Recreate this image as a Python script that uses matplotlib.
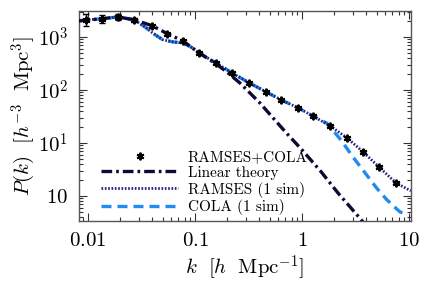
import numpy as np
import matplotlib
matplotlib.use('Agg')
import matplotlib.pyplot as plt
from matplotlib.ticker import FixedLocator, FixedFormatter, LogLocator, NullFormatter

plt.rcParams['mathtext.fontset'] = 'cm'
plt.rcParams['font.family'] = 'cmr10'
plt.rcParams['axes.unicode_minus'] = False

# averaged RAMSES+COLA points
k_pts = [0.0096, 0.0135, 0.019, 0.027, 0.040, 0.055, 0.077, 0.109, 0.157, 0.222,
         0.320, 0.461, 0.637, 0.918, 1.27, 1.83, 2.64, 3.72, 5.25, 7.57]
p_pts = [2090, 2190, 2380, 2090, 1610, 1140, 840, 500, 323, 209,
         136, 92, 65, 46, 32, 21, 12.4, 6.8, 3.5, 1.76]
p_err = [0.11, 0.075, 0.05, 0.035, 0.025, 0.02, 0.015, 0.01, 0.01, 0.01,
         0.01, 0.01, 0.01, 0.01, 0.01, 0.01, 0.01, 0.01, 0.01, 0.01]

# linear theory
k_lin = [0.0082, 0.0135, 0.019, 0.027, 0.040, 0.055, 0.077, 0.109, 0.157,
         0.2, 0.264, 0.4, 0.693, 1.0, 1.5, 2.2, 3.48, 4.0]
p_lin = [2000, 2200, 2380, 2100, 1620, 1150, 840, 500, 310,
         215, 134, 58, 16.5, 7.4, 2.9, 1.1, 0.38, 0.27]

# RAMSES single simulation
k_ram = [0.0082, 0.0096, 0.0135, 0.019, 0.027, 0.034, 0.040, 0.050, 0.062, 0.077,
         0.095, 0.109, 0.157, 0.222, 0.320, 0.461, 0.637, 0.918, 1.27, 1.83,
         2.64, 3.72, 5.25, 7.57, 10.4]
p_ram = [2000, 2090, 2190, 2380, 2090, 1550, 1190, 880, 805, 770,
         620, 500, 323, 209, 136, 92, 65, 46, 32, 21,
         12.4, 6.8, 3.5, 1.76, 1.25]

# COLA single simulation
k_cola = [0.0082, 0.0096, 0.0135, 0.019, 0.027, 0.034, 0.040, 0.050, 0.062, 0.077,
          0.095, 0.109, 0.157, 0.222, 0.320, 0.461, 0.637, 0.918, 1.27, 1.71,
          2.31, 3.0, 5.0, 6.2, 8.24, 9.6]
p_cola = [2000, 2090, 2190, 2380, 2090, 1550, 1190, 880, 805, 770,
          620, 500, 323, 209, 136, 92, 65, 46, 32, 23.5,
          11.4, 5.4, 1.4, 0.85, 0.50, 0.45]

fig = plt.figure(figsize=(4.28, 2.85), dpi=100)
ax = fig.add_axes([0.1846, 0.225, 0.7757, 0.7368])

ax.plot(k_lin, p_lin, color='#0b0b35', lw=2.4, ls=(0, (3.2, 1.2, 0.8, 1.2)),
        label='Linear theory', zorder=4)
ax.plot(k_ram, p_ram, color='#23237f', lw=2.0, ls=(0, (0.6, 0.6)),
        label='RAMSES (1 sim)', zorder=3)
ax.plot(k_cola, p_cola, color='#1f8cf0', lw=2.4, ls=(0, (3.0, 1.8)),
        label='COLA (1 sim)', zorder=2)
p_arr = np.array(p_pts)
e_arr = np.array(p_err)
ax.errorbar(k_pts, p_pts, yerr=[p_arr * (1 - 10**-e_arr), p_arr * (10**e_arr - 1)],
            fmt='none', ecolor='black', elinewidth=1.0, capsize=2.0, zorder=5)
ax.plot(k_pts, p_pts, ls='none', marker=(6, 2, 0), ms=5.5, mew=1.4, color='black',
        label='RAMSES+COLA', zorder=6)

ax.set_xscale('log')
ax.set_yscale('log')
ax.set_xlim(10**-2.084, 10**1.019)
ax.set_ylim(10**-0.47, 10**3.49)

ax.xaxis.set_major_locator(FixedLocator([0.01, 0.1, 1, 10]))
ax.xaxis.set_major_formatter(FixedFormatter([r'$0.01$', r'$0.1$', r'$1$', r'$10$']))
ax.yaxis.set_major_locator(FixedLocator([1, 10, 100, 1000]))
ax.yaxis.set_major_formatter(FixedFormatter([r'$10$', r'$10^1$', r'$10^2$', r'$10^3$']))
for a in (ax.xaxis, ax.yaxis):
    a.set_minor_locator(LogLocator(base=10, subs=np.arange(2, 10), numticks=20))
    a.set_minor_formatter(NullFormatter())

ax.tick_params(which='both', direction='in', top=True, right=True, width=0.8,
               colors='#333333', labelcolor='black', labelsize=15, pad=8)
ax.tick_params(which='major', length=6)
ax.tick_params(which='minor', length=3)
for s in ax.spines.values():
    s.set_linewidth(1.0)
    s.set_color('#555555')

ax.set_xlabel(r'$k\ \ [h\ \ \mathrm{Mpc}^{-1}]$', fontsize=15, labelpad=2)
ax.set_ylabel(r'$P(k)\ \ [h^{-3}\ \ \mathrm{Mpc}^3]$', fontsize=15, labelpad=0)

handles, labels = ax.get_legend_handles_labels()
order = [3, 0, 1, 2]
ax.legend([handles[i] for i in order], [labels[i] for i in order],
          loc='lower left', bbox_to_anchor=(0.035, -0.025), frameon=False,
          fontsize=11, handlelength=5.0, handletextpad=0.65, labelspacing=0.12,
          borderaxespad=0.3)

fig.savefig('out.png', dpi=100)
